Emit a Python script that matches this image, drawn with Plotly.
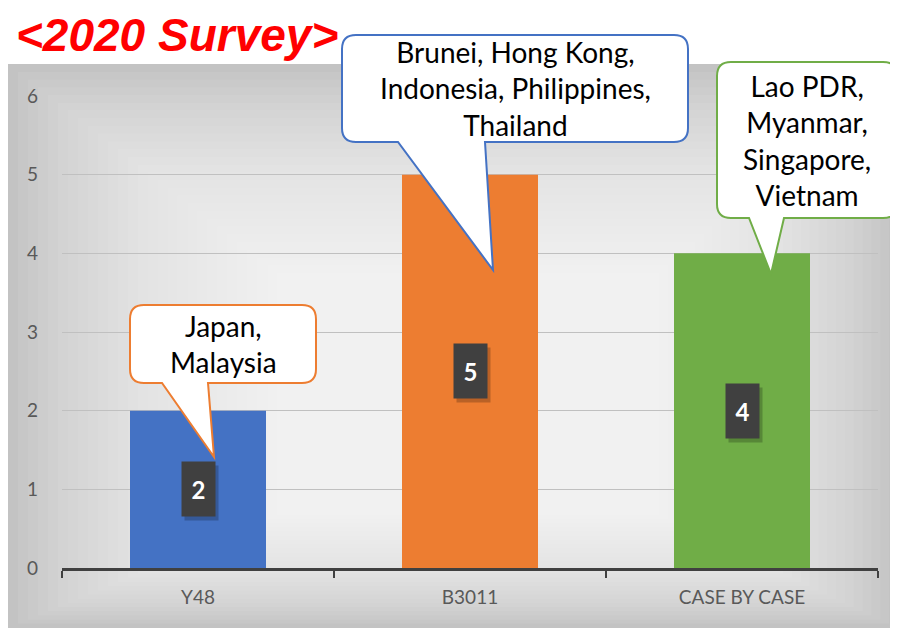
import plotly.graph_objects as go

# chart data
categories = ["Y48", "B3011", "CASE BY CASE"]
counts = [2, 5, 4]
bar_colors = ["#4472C4", "#ED7D31", "#70AD47"]
callout_texts = [
    "Japan,<br>Malaysia",
    "Brunei, Hong Kong,<br>Indonesia, Philippines,<br>Thailand",
    "Lao PDR,<br>Myanmar,<br>Singapore,<br>Vietnam",
]
title_text = "&lt;2020 Survey&gt;"

# page geometry in pixels (the page body adds an 8px margin around the figure)
PAGE_OFF = 8
FIG_W, FIG_H = 890, 620
L, R, T, B = 62, 878, 96, 568
FONT = "Lato"


def px(x):
    return (x - L) / (R - L)


def py(y):
    return (B - y) / (B - T)


def callout_path(x0, y0, x1, y1, r, bx0, bx1, tx, ty):
    pts = [
        ("M", [(x0 + r, y0)]),
        ("L", [(x1 - r, y0)]),
        ("Q", [(x1, y0), (x1, y0 + r)]),
        ("L", [(x1, y1 - r)]),
        ("Q", [(x1, y1), (x1 - r, y1)]),
        ("L", [(bx1, y1)]),
        ("L", [(tx, ty)]),
        ("L", [(bx0, y1)]),
        ("L", [(x0 + r, y1)]),
        ("Q", [(x0, y1), (x0, y1 - r)]),
        ("L", [(x0, y0 + r)]),
        ("Q", [(x0, y0), (x0 + r, y0)]),
    ]
    out = []
    for cmd, coords in pts:
        out.append(cmd + " ".join(f"{px(a):.5f},{py(b):.5f}" for a, b in coords))
    return " ".join(out) + " Z"


fig = go.Figure()
fig.add_trace(go.Bar(
    x=categories, y=counts, marker=dict(color=bar_colors, line=dict(width=0)),
    hoverinfo="skip", showlegend=False,
))

shapes = []
# gray panel with a rough radial fade toward the middle
right_edge = PAGE_OFF + FIG_W
bottom_edge = PAGE_OFF + FIG_H
shapes.append(dict(type="rect", xref="paper", yref="paper", layer="below",
                   x0=px(8), x1=px(right_edge), y0=py(bottom_edge), y1=py(64),
                   fillcolor="#c3c3c3", line=dict(width=0)))
cx, cy = 480, 430
steps = 45
for i in range(1, steps):
    t = i / steps * 0.95
    shapes.append(dict(
        type="rect", xref="paper", yref="paper", layer="below",
        x0=px(8 + (cx - 8) * t), x1=px(right_edge - (right_edge - cx) * t),
        y0=py(bottom_edge - (bottom_edge - cy) * t), y1=py(64 + (cy - 64) * t),
        fillcolor="rgba(255,255,255,0.065)", line=dict(width=0)))

# speech bubbles: rect, pointer base, pointer tip, border colour
bubbles = [
    dict(box=(130, 305, 316, 383), base=(162, 208), tip=(214, 457), color="#ED7D31"),
    dict(box=(342, 35, 688, 142), base=(398, 485), tip=(493, 270), color="#4472C4"),
    dict(box=(717, 62, 897, 218), base=(749, 784), tip=(771, 274), color="#70AD47"),
]
for b in bubbles:
    x0, y0, x1, y1 = b["box"]
    shapes.append(dict(
        type="path", xref="paper", yref="paper", layer="above",
        path=callout_path(x0, y0, x1, y1, 14, b["base"][0], b["base"][1], *b["tip"]),
        fillcolor="white", line=dict(color=b["color"], width=2)))

annotations = [dict(
    text=f"<b><i>{title_text}</i></b>", xref="paper", yref="paper",
    x=px(15), y=py(PAGE_OFF), xanchor="left", yanchor="top", showarrow=False,
    borderpad=0, font=dict(family="Liberation Sans, Arial", size=46, color="#FF0000"),
)]

# callout texts
for b, txt in zip(bubbles, callout_texts):
    x0, y0, x1, y1 = b["box"]
    annotations.append(dict(
        text=txt, xref="paper", yref="paper", x=px((x0 + x1) / 2), y=py((y0 + y1) / 2),
        xanchor="center", yanchor="middle", showarrow=False, align="center",
        font=dict(family=FONT, size=28, color="black")))

# dark value labels in the middle of each bar
for cat, val in zip(categories, counts):
    annotations.append(dict(
        text=" ", x=cat, y=val / 2, xref="x", yref="y", showarrow=False,
        xshift=3, yshift=-4, width=33, height=54, borderpad=0,
        bgcolor="rgba(0,0,0,0.22)"))
    annotations.append(dict(
        text=f"<b>{val}</b>", x=cat, y=val / 2, xref="x", yref="y", showarrow=False,
        width=33, height=54, borderpad=0, bgcolor="#404040",
        font=dict(family=FONT, size=24, color="white")))

fig.update_layout(
    width=FIG_W, height=FIG_H, autosize=False,
    margin=dict(l=L - PAGE_OFF, r=right_edge - R, t=T - PAGE_OFF, b=bottom_edge - B, pad=0),
    paper_bgcolor="white", plot_bgcolor="rgba(0,0,0,0)",
    bargap=0.5, shapes=shapes, annotations=annotations,
    font=dict(family=FONT, color="#595959"),
    xaxis=dict(
        showline=True, linecolor="#404040", linewidth=3,
        ticks="outside", tickson="boundaries", ticklen=7, tickwidth=2, tickcolor="#404040",
        tickfont=dict(size=19, color="#595959"), ticklabelstandoff=10,
        showgrid=False, fixedrange=True,
    ),
    yaxis=dict(
        range=[0, 6], dtick=1, showgrid=True, gridcolor="#c0c0c0", gridwidth=1,
        zeroline=False, showline=False, ticks="",
        tickfont=dict(size=19, color="#595959"), ticklabelstandoff=23, fixedrange=True,
    ),
)

fig.write_html("out.html")
